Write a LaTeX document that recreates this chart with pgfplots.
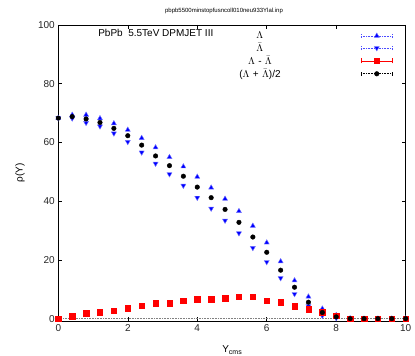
\documentclass[border=0pt]{standalone}
\usepackage{pgfplots}
\pgfplotsset{compat=1.18}
\usepackage{fontspec}
\setmainfont{Liberation Sans}
\begin{document}
\begin{tikzpicture}[x=1bp,y=1bp]
\useasboundingbox (0,0) rectangle (415,356);
\node[font=\fontsize{6bp}{7bp}\selectfont] at (224,345) {pbpb5500minstopfusncoll010neu933Ylal.inp};
\begin{axis}[
  at={(58.3bp,35bp)}, anchor=south west,
  scale only axis, width=347.4bp, height=296bp,
  xmin=0, xmax=10, ymin=-0.8, ymax=100,
  xtick={0,2,...,10}, ytick={0,20,...,100},
  tick align=inside, tick pos=both, major tick length=4bp,
  minor tick num=0,
  axis line style={line width=0.8bp},
  tick style={black, line width=0.5bp},
  /pgf/number format/assume math mode=true,
  ticklabel style={font=\fontsize{10bp}{12bp}\selectfont, text=black!85},
  font=\fontsize{10bp}{12bp}\selectfont,
  xlabel={Y\raisebox{-0.45ex}{\fontsize{7bp}{8bp}\selectfont cms}},
  ylabel={ρ(Y)},
  every axis x label/.style={at={(axis description cs:0.5,-0.098)}, anchor=center},
  every axis y label/.style={at={(axis description cs:-0.11,0.5)}, anchor=center, rotate=90},
  legend plot pos=right,
  legend style={draw=none, fill=none, at={(rel axis cs:0.963,0.978)}, anchor=north east,
    inner sep=0pt, row sep=3.2bp, column sep=70bp,
    nodes={text width=62bp, align=center, inner sep=0pt, font=\fontsize{10bp}{12bp}\selectfont}},
]
\addplot[gray, densely dotted, line width=0.6bp, forget plot] coordinates {(0,0) (10,0)};

\addplot[only marks, mark=triangle*, mark size=2.9bp, color=blue,
  mark options={fill=blue, draw=blue!55!white, line width=0.4bp},
  legend image code/.code={
    \draw[blue!70!white, densely dotted, line width=0.6bp] (0bp,0bp)--(31bp,0bp);
    \draw[blue!70!white, densely dotted, line width=0.6bp] (0bp,-2bp)--(0bp,2bp) (31bp,-2bp)--(31bp,2bp);
    \draw[only marks, mark=triangle*, mark size=2.9bp, mark options={fill=blue, draw=blue!55!white, line width=0.4bp}] plot coordinates {(15.5bp,0bp)};
  }] coordinates {
(0,68.3) (0.4,69.4) (0.8,69.4) (1.2,68.2) (1.6,66.5) (2.0,64.3) (2.4,61.5) (2.8,58.3) (3.2,55.0) (3.6,51.8)
(4.0,48.3) (4.4,44.6) (4.8,40.8) (5.2,36.6) (5.6,31.6) (6.0,25.9) (6.4,19.5) (6.8,13.0) (7.2,7.5) (7.6,3.4)
(8.0,1.2) (8.4,0.1) (8.8,0) (9.2,0) (9.6,0) (10.0,0)
};
\addlegendentry{$\Lambda$}

\addplot[only marks, mark=triangle*, mark size=2.9bp, color=blue,
  mark options={fill=blue, draw=blue!55!white, line width=0.4bp, rotate=180},
  legend image code/.code={
    \draw[blue!70!white, densely dotted, line width=0.6bp] (0bp,0bp)--(31bp,0bp);
    \draw[blue!70!white, densely dotted, line width=0.6bp] (0bp,-2bp)--(0bp,2bp) (31bp,-2bp)--(31bp,2bp);
    \draw[only marks, mark=triangle*, mark size=2.9bp, mark options={fill=blue, draw=blue!55!white, line width=0.4bp, rotate=180}] plot coordinates {(15.5bp,0bp)};
  }] coordinates {
(0,68.3) (0.4,68.2) (0.8,66.7) (1.2,65.5) (1.6,63.1) (2.0,60.2) (2.4,56.6) (2.8,52.8) (3.2,49.2) (3.6,45.3)
(4.0,41.2) (4.4,37.5) (4.8,33.4) (5.2,29.1) (5.6,24.1) (6.0,19.3) (6.4,13.8) (6.8,8.4) (7.2,4.3) (7.6,1.0)
(8.0,0.2) (8.4,0) (8.8,0) (9.2,0) (9.6,0) (10.0,0)
};
\addlegendentry{$\bar{\Lambda}$}

\addplot[only marks, mark=square*, mark size=2.7bp, color=red,
  mark options={fill=red, draw=red},
  legend image code/.code={
    \draw[red, line width=0.7bp] (0bp,0bp)--(31bp,0bp);
    \draw[red, line width=0.7bp] (0bp,-2.5bp)--(0bp,2.5bp) (31bp,-2.5bp)--(31bp,2.5bp);
    \draw[only marks, mark=square*, mark size=2.7bp, mark options={fill=red, draw=red}] plot coordinates {(15.5bp,0bp)};
  }] coordinates {
(0,0) (0.4,0.8) (0.8,1.8) (1.2,2.2) (1.6,2.8) (2.0,3.5) (2.4,4.5) (2.8,5.2) (3.2,5.2) (3.6,6.2)
(4.0,6.6) (4.4,6.6) (4.8,6.9) (5.2,7.4) (5.6,7.4) (6.0,6.2) (6.4,5.6) (6.8,4.2) (7.2,3.2) (7.6,2.2)
(8.0,1.1) (8.4,0) (8.8,0) (9.2,0) (9.6,0) (10.0,0)
};
\addlegendentry{$\Lambda$ - $\bar{\Lambda}$}

\addplot[only marks, mark=*, mark size=2.3bp, color=black,
  mark options={fill=black, draw=black},
  legend image code/.code={
    \draw[black, densely dotted, line width=0.6bp] (0bp,0bp)--(31bp,0bp);
    \draw[black, densely dotted, line width=0.6bp] (0bp,-2bp)--(0bp,2bp) (31bp,-2bp)--(31bp,2bp);
    \draw[only marks, mark=*, mark size=2.3bp, mark options={fill=black, draw=black}] plot coordinates {(15.5bp,0bp)};
  }] coordinates {
(0,68.3) (0.4,68.8) (0.8,68.0) (1.2,66.8) (1.6,64.8) (2.0,62.3) (2.4,59.1) (2.8,55.4) (3.2,52.1) (3.6,48.5)
(4.0,44.8) (4.4,41.2) (4.8,37.2) (5.2,32.8) (5.6,27.8) (6.0,22.6) (6.4,16.5) (6.8,10.7) (7.2,5.6) (7.6,2.1)
(8.0,0.6) (8.4,0) (8.8,0) (9.2,0) (9.6,0) (10.0,0)
};
\addlegendentry{($\Lambda$ + $\bar{\Lambda}$)/2}

\node[anchor=west, font=\fontsize{10bp}{12bp}\selectfont] at (axis cs:1.05,97.2) {PbPb\ \ 5.5TeV DPMJET III};
\end{axis}
\end{tikzpicture}
\end{document}
